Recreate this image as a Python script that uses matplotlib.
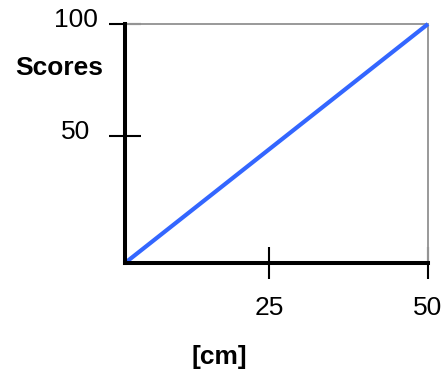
import matplotlib
matplotlib.use("Agg")
import matplotlib.pyplot as plt
import matplotlib.transforms as mtrans

x_vals = [2.36, 50]
y_vals = [-7, 100]
x_ticks = [25, 50]
y_ticks = [50, 100]
x_label = "[cm]"
y_label = "Scores"

plt.rcParams['font.family'] = ['Liberation Sans', 'DejaVu Sans']

W, H = 444, 370
fig = plt.figure(figsize=(W / 100, H / 100), dpi=100)
left, right, bottom, top = 125, 428, 263, 24
ax = fig.add_axes([left / W, 1 - bottom / H, (right - left) / W, (bottom - top) / H])

ax.plot(x_vals, y_vals, color='#3366ff', lw=3.0, clip_on=False, solid_capstyle='butt', zorder=3)
ax.set_xlim(x_vals[0], 50)
ax.set_ylim(y_vals[0], 100)

for s in ['left', 'bottom']:
    ax.spines[s].set_linewidth(2.9)
    ax.spines[s].set_color('black')
    ax.spines[s].set_zorder(4)
for s in ['top', 'right']:
    ax.spines[s].set_linewidth(1.4)
    ax.spines[s].set_color('#999999')
    ax.spines[s].set_linestyle((0, (1.0, 1.0)))

ax.set_xticks(x_ticks)
ax.set_yticks(y_ticks)
ax.tick_params(axis='both', direction='inout', length=23, width=1.5, color='black',
               labelleft=False, labelbottom=False)

fs = 19
ytr = mtrans.blended_transform_factory(fig.transFigure, ax.transData)
off = mtrans.ScaledTranslation(0, 4 / 100, fig.dpi_scale_trans)
for v in y_ticks:
    ax.text(75.5 / W, v, str(v), transform=ytr + off, ha='center', va='center', fontsize=fs)
xtr = mtrans.blended_transform_factory(ax.transData, fig.transFigure)
for v in x_ticks:
    ax.text(v, 1 - 308 / H, str(v), transform=xtr, ha='center', va='center', fontsize=fs)

fig.text(103 / W, 1 - 68 / H, y_label, ha='right', va='center', fontsize=fs, fontweight='bold')
fig.text(219.5 / W, 1 - 357 / H, x_label, ha='center', va='center', fontsize=fs, fontweight='bold')

fig.savefig('out.png', dpi=100)
